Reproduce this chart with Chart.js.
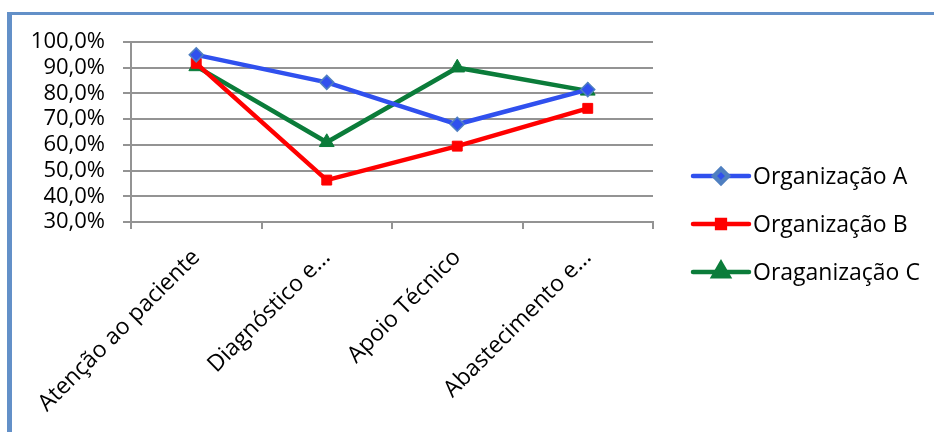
<!DOCTYPE html>
<html>
<head>
<meta charset="utf-8">
<script src="https://cdn.jsdelivr.net/npm/chart.js@4/dist/chart.umd.min.js"></script>
<style>
  html, body { margin: 0; padding: 0; background: #fff; }
  #wrap { width: 934px; height: 432px; position: relative; }
</style>
</head>
<body>
<div id="wrap"><canvas id="c" width="934" height="432"></canvas></div>
<script>
const categories = ['Atenção ao paciente', 'Diagnóstico e...', 'Apoio Técnico', 'Abastecimento e...'];
const seriesNames = ['Organização A', 'Organização B', 'Oraganização C'];
const orgA = [95, 84.3, 68, 81.5];
const orgB = [91.7, 46.3, 59.5, 74.2];
const orgC = [90.5, 61, 90, 81];
const yTicks = [30, 40, 50, 60, 70, 80, 90, 100];

const FONT = "'Open Sans', 'DejaVu Sans', sans-serif";
const GRID = '#939393';

const frame = {
  id: 'frame',
  beforeDraw(chart) {
    const ctx = chart.ctx;
    ctx.save();
    ctx.fillStyle = '#fff';
    ctx.fillRect(0, 0, chart.width, chart.height);
    ctx.fillStyle = '#6390c8';
    ctx.fillRect(7, 12, 5, chart.height - 12);
    ctx.fillRect(7, 12, chart.width - 7, 3);
    ctx.restore();
  }
};

const customLegend = {
  id: 'customLegend',
  afterDraw(chart) {
    const ctx = chart.ctx;
    const x0 = 693, x1 = 749, tx = 753;
    const rows = [176, 224, 272];
    ctx.save();
    chart.data.datasets.forEach((ds, i) => {
      const y = rows[i];
      ctx.strokeStyle = ds.borderColor;
      ctx.lineWidth = ds.borderWidth;
      ctx.lineCap = 'round';
      ctx.beginPath();
      ctx.moveTo(x0, y);
      ctx.lineTo(x1, y);
      ctx.stroke();
      ctx.fillStyle = ds.pointBackgroundColor;
      ctx.strokeStyle = ds.pointBorderColor;
      Chart.helpers.drawPoint(ctx, {
        pointStyle: ds.pointStyle,
        radius: ds.pointStyle === 'rect' ? 5.5 : ds.pointRadius,
        rotation: 0,
        borderWidth: ds.pointBorderWidth
      }, (x0 + x1) / 2, y);
      ctx.fillStyle = '#000';
      ctx.font = '23px ' + FONT;
      ctx.textAlign = 'left';
      ctx.textBaseline = 'middle';
      ctx.fillText(ds.label, tx, y + 1);
    });
    ctx.restore();
  }
};

new Chart(document.getElementById('c'), {
  type: 'line',
  data: {
    labels: categories,
    datasets: [
      {
        label: seriesNames[0], data: orgA,
        borderColor: '#3050ee', borderWidth: 4.5,
        pointStyle: 'rectRot', pointRadius: 7,
        pointBackgroundColor: '#3050ee', pointBorderColor: '#4f7fc0', pointBorderWidth: 1.5,
        tension: 0
      },
      {
        label: seriesNames[1], data: orgB,
        borderColor: '#ff0000', borderWidth: 4.5,
        pointStyle: 'rect', pointRadius: 7,
        pointBackgroundColor: '#ff0000', pointBorderColor: '#ff0000', pointBorderWidth: 1,
        tension: 0
      },
      {
        label: seriesNames[2], data: orgC,
        borderColor: '#0b7c3a', borderWidth: 4.5,
        pointStyle: 'triangle', pointRadius: 8.5,
        pointBackgroundColor: '#0b7c3a', pointBorderColor: '#0b7c3a', pointBorderWidth: 1,
        tension: 0
      }
    ]
  },
  options: {
    responsive: false,
    animation: false,
    layout: { padding: { left: 0, right: 281, top: 42, bottom: 0 } },
    plugins: { legend: { display: false }, tooltip: { enabled: false } },
    scales: {
      x: {
        offset: true,
        afterFit(scale) { scale.height = 210; },
        grid: { offset: true, drawOnChartArea: false, drawTicks: true, tickLength: 7, color: GRID, lineWidth: 2 },
        border: { color: GRID, width: 2 },
        ticks: {
          autoSkip: false, minRotation: 45, maxRotation: 45, padding: 15,
          color: '#000', font: { family: FONT, size: 23 }
        }
      },
      y: {
        min: 30, max: 100,
        afterFit(scale) { scale.width = 131; },
        afterBuildTicks(scale) { scale.ticks = yTicks.map(v => ({ value: v })); },
        grid: { color: GRID, lineWidth: 2, tickLength: 8, drawTicks: true },
        border: { color: GRID, width: 2 },
        ticks: {
          autoSkip: false, padding: 18, color: '#000', font: { family: FONT, size: 22 },
          callback: v => v.toFixed(1).replace('.', ',') + '%'
        }
      }
    }
  },
  plugins: [frame, customLegend]
});
</script>
</body>
</html>
